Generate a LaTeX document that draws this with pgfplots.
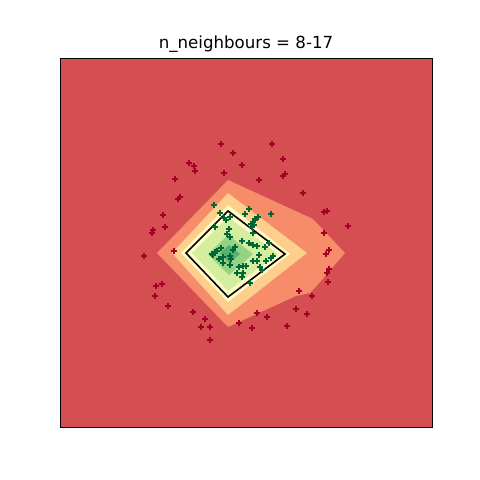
\documentclass[border=0pt]{standalone}
\usepackage{fontspec}
\setmainfont{DejaVu Sans}
\usepackage{pgfplots}
\pgfplotsset{compat=1.18}
\definecolor{bgred}{RGB}{212,78,82}
\definecolor{orng}{RGB}{246,140,106}
\definecolor{lorng}{RGB}{253,206,140}
\definecolor{pyel}{RGB}{255,251,198}
\definecolor{lgrn}{RGB}{212,237,158}
\definecolor{mgrn}{RGB}{150,210,132}
\definecolor{dgrn}{RGB}{84,176,116}
\definecolor{ptred}{RGB}{165,0,38}
\definecolor{ptgrn}{RGB}{0,104,55}
\begin{document}
\begin{tikzpicture}
\begin{axis}[
  scale only axis, width=372bp, height=369bp,
  xmin=60, xmax=432, ymin=58, ymax=427, y dir=reverse,
  xtick=\empty, ytick=\empty,
  axis line style={line width=0.8pt},
  axis background/.style={fill=bgred},
  clip=false, axis on top,
]
\addplot[fill=orng, draw=none] coordinates {(228,180)(313,219)(345,253)(321,281)(310,293)(296,296)(228,327)(157,253)} --cycle;
\addplot[fill=lorng, draw=none] coordinates {(228,193)(307,253)(228,315)(172,253)} --cycle;
\addplot[fill=pyel, draw=none] coordinates {(228,205)(290,254)(228,302)(181,253)} --cycle;
\addplot[fill=lgrn, draw=none] coordinates {(228,217)(278,254)(228,291)(192,253)} --cycle;
\addplot[fill=mgrn, draw=none] coordinates {(228,235)(253,254)(229,275)(208,254)} --cycle;
\addplot[fill=dgrn, draw=none] coordinates {(229,245)(240,254)(229,263)(220,253)} --cycle;
\addplot[black, line width=1.6bp] coordinates {(228,211)(285,254)(228,297)(186,253)} --cycle;
\addplot[only marks, mark=+, mark size=2.6bp, line width=1.3bp, ptred] coordinates {
(221,144)(272,144)(233,153)(283,159)(189,163)(194,166)(242,165)(195,171)(224,173)
(285,174)(283,176)(259,180)(175,179)(303,193)(180,197)(178,199)(327,211)(324,212)
(163,215)(165,227)(153,230)(152,233)(348,226)(324,233)(144,256)(174,251)(329,250)
(326,254)(329,269)(327,273)(328,282)(156,286)(162,284)(155,296)(299,291)(312,296)
(168,306)(296,309)(193,312)(257,313)(307,314)(267,317)(205,319)(239,323)(201,327)
(210,327)(252,328)(287,326)(210,340)};
\addplot[only marks, mark=+, mark size=2.6bp, line width=1.3bp, ptgrn] coordinates {
(214,205)(249,209)(245,214)(271,214)(220,213)(258,217)(255,220)(224,218)(230,217)
(226,220)(253,222)(251,224)(254,225)(215,227)(229,229)(253,233)(227,234)(230,237)
(242,241)(249,243)(253,245)(257,246)(269,243)(265,247)(221,248)(233,250)(235,247)
(215,252)(213,255)(259,255)(273,256)(223,257)(219,259)(231,259)(230,256)(253,261)
(257,261)(266,261)(271,258)(223,263)(230,265)(243,266)(246,266)(239,267)(260,267)
(262,270)(237,273)(243,273)(242,277)(250,283)(217,251)(212,254)(255,219)(252,227)};
\node[anchor=base, font=\fontsize{16.7}{20}\selectfont] at (axis cs:246,49) {n\_neighbours = 8-17};
\path (axis cs:0,0) (axis cs:480,480);
\end{axis}
\end{tikzpicture}
\end{document}
